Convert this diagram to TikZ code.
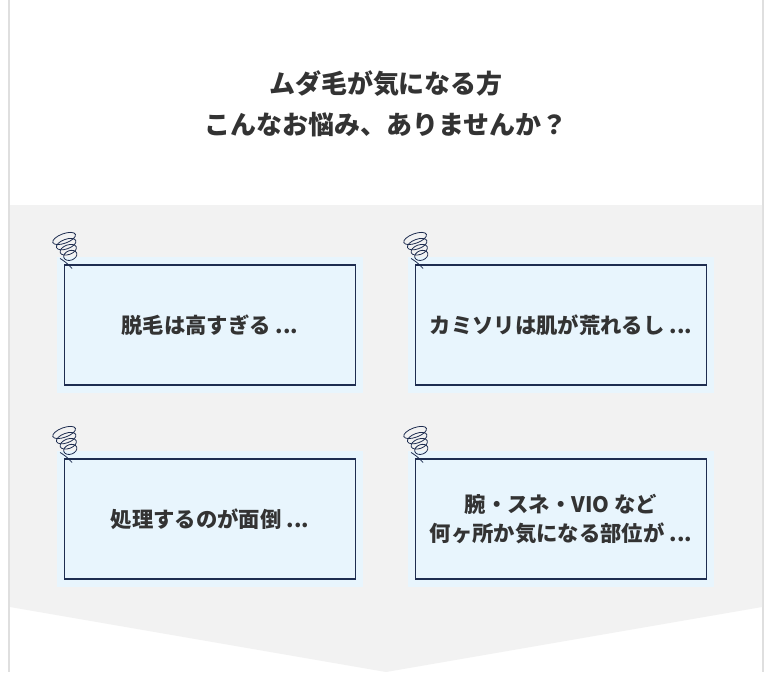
\documentclass[tikz,border=0pt]{standalone}
\usepackage{fontspec}
\setmainfont{Noto Sans CJK JP}
\usetikzlibrary{positioning}
\definecolor{paper}{RGB}{242,242,242}
\definecolor{pale}{RGB}{232,245,253}
\definecolor{navy}{RGB}{30,45,80}
\definecolor{ink}{RGB}{51,51,51}
\tikzset{
  worry/.style={draw=navy,fill=pale,line width=0.8pt,minimum width=218pt,minimum height=90pt,
    font=\fontsize{16}{22}\selectfont\bfseries,text=ink,align=center},
  halo/.style={fill=pale},
  swirl/.style={draw=navy,line width=0.6pt}
}
\newcommand{\swirlat}[1]{%
  \foreach \k in {0,...,3}
    \draw[swirl,rotate around={20:#1}] ($#1+(0,-\k*4.5pt)$) ellipse ({9pt-\k*1.3pt} and 3.6pt);
}
\usetikzlibrary{calc}
\begin{document}
\begin{tikzpicture}[x=0.75pt,y=-0.75pt]
  \useasboundingbox (0,0) rectangle (772,672);
  % card with shadow
  \fill[gray!25] (8,0) rectangle (764,672);
  \fill[white] (10,0) rectangle (762,672);
  \fill[paper] (10,205) -- (762,205) -- (762,607) -- (386,672) -- (10,607) -- cycle;
  % heading
  \node[font=\fontsize{19.5}{31}\selectfont\bfseries,text=ink,align=center] (title) at (386,104)
    {ムダ毛が気になる方\\こんなお悩み、ありませんか？};
  % boxes
  \foreach \cx/\cy/\nm in {210/325/a,561/325/b,210/519/c,561/519/d}{
    \fill[halo] (\cx-153,\cy-68) rectangle (\cx+153,\cy+68);
  }
  \node[worry] (a) at (210,325) {脱毛は高すぎる ...};
  \node[worry] (b) at (561,325) {カミソリは肌が荒れるし ...};
  \node[worry] (c) at (210,519) {処理するのが面倒 ...};
  \node[worry] (d) at (561,519) {腕・スネ・VIO など\\何ヶ所か気になる部位が ...};
  % swirls
  \foreach \n in {a,b,c,d}{
    \coordinate (s\n) at ($(\n.north west)+(0,-26)$);
    \swirlat{(s\n)}
    \draw[swirl] ($(\n.north west)+(-4,-6)$) .. controls ($(\n.north west)+(2,-2)$) .. ($(\n.north west)+(8,4)$);
  }
\end{tikzpicture}
\end{document}
